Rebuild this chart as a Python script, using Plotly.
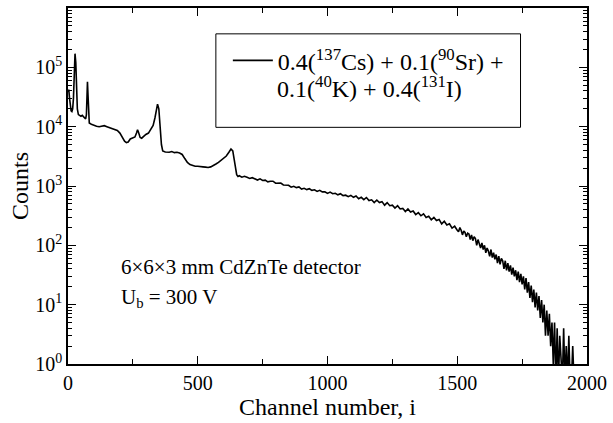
import plotly.graph_objects as go

# ---- data ----
low_channels = [0, 3, 6, 9, 12, 15, 18, 21, 24, 27, 30, 33, 36, 40, 45, 50, 55, 60, 65, 68,
                71, 73, 75, 77, 79, 82, 90, 100, 110, 120, 130, 140, 150, 160, 170, 180, 190,
                200, 210, 218, 225, 232, 240, 250, 258, 264, 268, 272, 278, 284, 292, 300, 310,
                320, 328, 335, 340, 345, 350, 355, 360, 365, 375, 390, 400, 410, 420, 430, 440,
                450, 460, 470, 480, 490, 500, 510, 520, 530, 540, 550, 560, 570, 580, 590, 600,
                610, 620, 628, 635, 640, 645, 650, 655]
low_counts = [38000, 42000, 30000, 22000, 18500, 18000, 20000, 30000, 80000, 170000, 120000,
              45000, 20000, 16000, 15500, 15000, 15500, 14500, 14000, 13500, 16000, 30000,
              57000, 35000, 15000, 11500, 11000, 10500, 10200, 10000, 10200, 10400, 10000,
              9700, 9400, 9000, 8600, 7800, 6500, 5700, 5400, 5500, 6200, 6500, 6700, 7800,
              8900, 8000, 6600, 6400, 7000, 7400, 7800, 9000, 10500, 14000, 19000, 24000,
              20000, 10000, 5000, 3900, 3750, 3700, 3800, 3650, 3700, 3600, 3400, 2900, 2500,
              2300, 2200, 2150, 2150, 2100, 2100, 2080, 2050, 2100, 2200, 2350, 2500, 2700,
              2950, 3200, 3700, 4200, 3900, 3000, 2000, 1550, 1450]

mid_channels = list(range(660, 1501, 10))
mid_counts = [1490, 1410, 1460, 1400, 1340, 1380, 1330, 1260, 1320, 1240, 1255, 1175, 1200,
              1205, 1115, 1130, 1120, 1040, 1030, 1030, 955, 990, 940, 965, 890, 915, 870,
              900, 845, 865, 810, 845, 795, 800, 750, 790, 740, 755, 710, 740, 690, 700, 660,
              695, 645, 680, 610, 645, 590, 640, 570, 585, 525, 580, 525, 545, 475, 525, 465,
              475, 425, 465, 410, 420, 370, 410, 365, 380, 330, 355, 315, 340, 295, 310, 270,
              295, 262, 273, 230, 255, 220, 230, 195, 210, 180]

tail_channels = list(range(1505, 1960, 5))
tail_counts = [170, 200, 180, 150, 175, 165, 140, 160, 155, 125, 150, 120, 140, 130, 100, 125,
               110, 90, 110, 85, 100, 75, 90, 80, 65, 85, 62, 75, 58, 70, 50, 66, 48, 60, 55,
               40, 55, 38, 50, 36, 46, 32, 42, 30, 38, 26, 36, 24, 33, 22, 30, 18, 28, 16, 24,
               13, 21, 11, 18, 9, 16, 8, 14, 6, 12, 5, 10, 3, 8, 3, 7, 2, 5, 1, 5, 0.5, 4, 0.5,
               3, 1, 0.5, 4, 0.5, 2, 0.5, 3, 0.5, 0.5, 2, 0.5, 0.5]

channels = low_channels + mid_channels + tail_channels
counts = low_counts + mid_counts + tail_counts

y_tick_vals = [1, 10, 100, 1000, 10000, 100000, 1000000]
y_tick_text = ["10<sup>0</sup>", "10<sup>1</sup>", "10<sup>2</sup>", "10<sup>3</sup>",
               "10<sup>4</sup>", "10<sup>5</sup>", "10<sup>6</sup>"]
y_minor_vals = [m * 10 ** e for e in range(0, 6) for m in range(2, 10)]
x_tick_vals = [0, 500, 1000, 1500, 2000]
x_minor_vals = [250, 750, 1250, 1750]

legend_line1 = "0.4(<sup>137</sup>Cs) + 0.1(<sup>90</sup>Sr) +"
legend_line2 = "0.1(<sup>40</sup>K) + 0.4(<sup>131</sup>I)"

FONT = "Liberation Serif, Times New Roman, serif"

fig = go.Figure()
fig.add_trace(go.Scatter(x=channels, y=counts, mode="lines",
                         line=dict(color="black", width=1.6),
                         name=legend_line1, showlegend=True))

fig.update_layout(
    width=613, height=423,
    margin=dict(l=68, r=22, t=6, b=59),
    paper_bgcolor="white", plot_bgcolor="white",
    font=dict(family=FONT, size=20, color="black"),
    showlegend=True,
    legend=dict(x=0.308, y=0.915, xanchor="left", yanchor="top",
                bgcolor="rgba(0,0,0,0)", borderwidth=0, valign="middle",
                font=dict(family=FONT, size=24, color="black"),
                itemwidth=40, tracegroupgap=0),
    xaxis=dict(range=[0, 2000], tickmode="array", tickvals=x_tick_vals,
               ticks="inside", ticklen=8, tickwidth=1, tickcolor="black",
               showline=True, linecolor="black", linewidth=1.5, mirror="ticks",
               showgrid=False, zeroline=False,
               minor=dict(tickmode="array", tickvals=x_minor_vals,
                          ticks="inside", ticklen=5, tickwidth=1, tickcolor="black"),
               tickfont=dict(family=FONT, size=20, color="black"),
               title=dict(text="Channel number, i", font=dict(family=FONT, size=24, color="black"),
                          standoff=0)),
    yaxis=dict(type="log", range=[0, 6], tickmode="array", tickvals=y_tick_vals,
               ticktext=y_tick_text,
               ticks="inside", ticklen=8, tickwidth=1, tickcolor="black",
               showline=True, linecolor="black", linewidth=1.5, mirror="ticks",
               showgrid=False, zeroline=False,
               minor=dict(tickmode="array", tickvals=y_minor_vals,
                          ticks="inside", ticklen=4, tickwidth=1, tickcolor="black"),
               tickfont=dict(family=FONT, size=20, color="black"),
               title=dict(text="Counts", font=dict(family=FONT, size=24, color="black"),
                          standoff=0)),
    shapes=[dict(type="rect", xref="paper", yref="paper",
                 x0=0.2849, x1=0.8719, y0=0.6648, y1=0.9274,
                 line=dict(color="black", width=1), fillcolor="rgba(0,0,0,0)")],
    annotations=[
        dict(text=legend_line2, xref="paper", yref="paper",
             x=0.3996, y=0.779, xanchor="left", yanchor="middle", showarrow=False,
             font=dict(family=FONT, size=24, color="black")),
        dict(text="6×6×3 mm CdZnTe detector", xref="paper", yref="paper",
             x=0.099, y=0.272, xanchor="left", yanchor="middle", showarrow=False,
             font=dict(family=FONT, size=21, color="black")),
        dict(text="U<sub>b</sub> = 300 V", xref="paper", yref="paper",
             x=0.099, y=0.185, xanchor="left", yanchor="middle", showarrow=False,
             font=dict(family=FONT, size=21, color="black")),
    ],
)

fig.write_html("out.html", config={"displayModeBar": False},
               post_script="document.body.style.margin='0';document.body.style.padding='0';")
